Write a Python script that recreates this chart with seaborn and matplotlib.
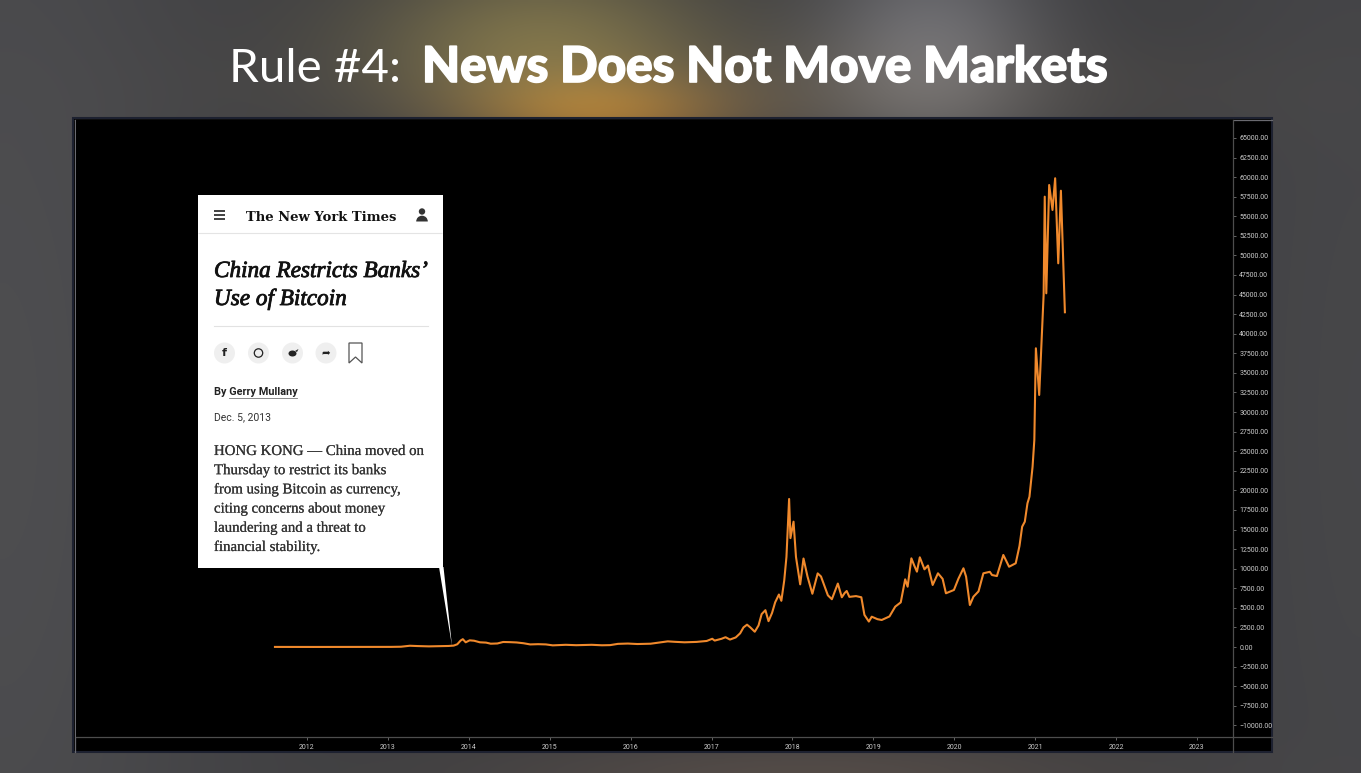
import numpy as np
import pandas as pd
import matplotlib
matplotlib.use("Agg")
import matplotlib.pyplot as plt
from matplotlib.patches import Rectangle, Polygon, Circle, Wedge, Ellipse
import matplotlib.patheffects as pe
import seaborn as sns

# ---------------- data ----------------
dates = [
    "2011-08-10", "2011-11-01", "2012-02-01", "2012-05-01", "2012-08-15", "2012-11-01",
    "2013-01-15", "2013-03-01", "2013-04-10", "2013-05-15", "2013-07-05", "2013-08-20",
    "2013-10-01", "2013-10-25", "2013-11-10", "2013-11-25", "2013-12-05", "2013-12-18",
    "2014-01-05", "2014-01-25", "2014-02-20", "2014-03-20", "2014-04-10", "2014-05-10",
    "2014-06-05", "2014-07-05", "2014-08-05", "2014-09-05", "2014-10-05", "2014-11-10",
    "2014-12-15", "2015-01-15", "2015-02-15", "2015-03-15", "2015-05-01", "2015-07-10",
    "2015-08-25", "2015-10-01", "2015-11-05", "2015-12-20", "2016-02-01", "2016-04-01",
    "2016-06-17", "2016-07-20", "2016-09-01", "2016-10-25", "2016-12-10", "2017-01-04",
    "2017-01-15", "2017-02-15", "2017-03-05", "2017-03-25", "2017-04-20", "2017-05-10",
    "2017-05-25", "2017-06-10", "2017-06-25", "2017-07-15", "2017-08-01", "2017-08-15",
    "2017-09-01", "2017-09-15", "2017-10-01", "2017-10-15", "2017-11-01", "2017-11-12",
    "2017-11-25", "2017-12-05", "2017-12-17", "2017-12-23", "2018-01-06", "2018-01-17",
    "2018-02-05", "2018-02-20", "2018-03-10", "2018-04-01", "2018-04-25", "2018-05-10",
    "2018-06-10", "2018-06-28", "2018-07-25", "2018-08-12", "2018-08-25", "2018-09-03",
    "2018-09-15", "2018-10-15", "2018-11-08", "2018-11-22", "2018-12-12", "2018-12-25",
    "2019-01-20", "2019-02-08", "2019-03-15", "2019-04-10", "2019-05-05", "2019-05-25",
    "2019-06-05", "2019-06-22", "2019-07-05", "2019-07-17", "2019-07-30", "2019-08-20",
    "2019-09-05", "2019-09-26", "2019-10-20", "2019-11-10", "2019-11-25", "2019-12-15",
    "2019-12-31", "2020-01-20", "2020-02-12", "2020-02-24", "2020-03-12", "2020-03-28",
    "2020-04-20", "2020-05-12", "2020-06-10", "2020-06-20", "2020-07-12", "2020-08-10",
    "2020-09-05", "2020-10-05", "2020-10-22", "2020-11-03", "2020-11-15", "2020-11-27",
    "2020-12-06", "2020-12-20", "2020-12-28", "2021-01-04", "2021-01-19", "2021-02-08",
    "2021-02-13", "2021-02-20", "2021-03-05", "2021-03-20", "2021-04-01", "2021-04-15",
    "2021-04-27", "2021-05-15",
]
prices = [
    10, 3, 6, 5, 11, 11,
    15, 35, 160, 120, 80, 110,
    130, 180, 350, 820, 1000, 600,
    850, 800, 600, 560, 420, 450,
    640, 620, 580, 480, 330, 360,
    330, 210, 240, 280, 230, 280,
    220, 240, 400, 440, 380, 420,
    720, 660, 600, 650, 770, 1050,
    820, 1050, 1250, 950, 1220, 1750,
    2500, 2850, 2500, 1950, 2750, 4200,
    4700, 3300, 4350, 5700, 6700, 5900,
    8500, 11500, 18900, 13900, 16000, 11500,
    8000, 11300, 9000, 6800, 9400, 9000,
    6600, 6100, 8100, 6350, 6900, 7150,
    6400, 6500, 6350, 4100, 3250, 3870,
    3550, 3450, 3900, 5150, 5700, 8640,
    7700, 11320, 10400, 9620, 11450, 9920,
    10400, 7920, 9410, 8700, 6860, 7100,
    7280, 8700, 10050, 8980, 5360, 6420,
    7100, 9410, 9600, 9190, 9060, 11750,
    10250, 10690, 12900, 15360, 16000, 18350,
    19190, 23000, 26430, 38140, 32180, 45000,
    57500, 45160, 58990, 55800, 59850, 48990,
    58260, 42740,
]
year_ticks = list(range(2012, 2024))
y_ticks = list(range(-10000, 65001, 2500))

title_light = "Rule #4:"
title_bold = "News Does Not Move Markets"
nyt_logo = "The New York Times"
headline = ["China Restricts Banks\u2019", "Use of Bitcoin"]
byline = "By Gerry Mullany"
dateline = "Dec. 5, 2013"
body = [
    "HONG KONG \u2014 China moved on",
    "Thursday to restrict its banks",
    "from using Bitcoin as currency,",
    "citing concerns about money",
    "laundering and a threat to",
    "financial stability.",
]

# ---------------- figure ----------------
W, H = 1361, 773
fig = plt.figure(figsize=(W / 100, H / 100), dpi=100)
renderer = fig.canvas.get_renderer()

# background (blurred photo look)
bg = fig.add_axes([0, 0, 1, 1], zorder=0)
bg.set_xlim(0, W)
bg.set_ylim(H, 0)
bg.axis("off")
yy, xx = np.mgrid[0:H:3, 0:W:3].astype(float)
base = np.array([0.245, 0.245, 0.255])
img = np.zeros(yy.shape + (3,)) + base


def blob(cx, cy, sx, sy, col, amp):
    g = amp * np.exp(-(((xx - cx) / sx) ** 2 + ((yy - cy) / sy) ** 2) / 2)
    return g[..., None] * (np.array(col) - base)


img = img + blob(0, 420, 160, 600, (0.31, 0.31, 0.32), 0.9)
img = img + blob(1361, 420, 120, 600, (0.29, 0.29, 0.30), 0.7)
img = img + blob(540, 40, 120, 60, (0.55, 0.50, 0.30), 0.75)
img = img + blob(600, 112, 90, 28, (0.62, 0.42, 0.18), 0.7)
img = img + blob(930, 45, 80, 80, (0.47, 0.47, 0.49), 0.8)
img = img + blob(760, 90, 280, 40, (0.40, 0.36, 0.30), 0.4)
img = img + blob(800, 773, 220, 25, (0.40, 0.34, 0.30), 0.5)
bg.imshow(np.clip(img, 0, 1), extent=[0, W, H, 0], aspect="auto",
          interpolation="bilinear", zorder=0)

# black chart panel
bg.add_patch(Rectangle((73, 118), 1272 - 73, 752 - 118, facecolor="black",
                       edgecolor="#1d2130", lw=1.5, zorder=2))
bg.plot([75.5, 75.5], [752, 119.5], color="#6a6a70", lw=0.9, zorder=3)
bg.plot([75.5, 1272], [119.5, 119.5], color="#6a6a70", lw=0.9, zorder=3)

# ---------------- main chart ----------------
def px_ax(x0, y0, x1, y1):
    return [x0 / W, 1 - y1 / H, (x1 - x0) / W, (y1 - y0) / H]


ax = fig.add_axes(px_ax(76, 120, 1233, 737), zorder=1)
ax.set_facecolor("black")
df = pd.DataFrame({"date": pd.to_datetime(dates), "price": prices})
sns.lineplot(data=df, x="date", y="price", ax=ax, color="#f0892c",
             linewidth=1.5, estimator=None)


def yr(d):
    y = int(np.floor(d))
    a = pd.Timestamp(y, 1, 1)
    b = pd.Timestamp(y + 1, 1, 1)
    return a + (b - a) * (d - y)


px_per_year = 80.9
ax.set_xlim(yr(2012 + (76 - 307) / px_per_year), yr(2012 + (1233 - 307) / px_per_year))
px_per_unit = 19.58 / 2500
ax.set_ylim(-(737 - 647) / px_per_unit, (647 - 120) / px_per_unit)
for s in ax.spines.values():
    s.set_visible(False)
ax.set_xlabel("")
ax.set_ylabel("")
ax.set_xticks([pd.Timestamp(f"{y}-01-01") for y in year_ticks])
ax.set_xticklabels([str(y) for y in year_ticks])
ax.yaxis.tick_right()
ax.set_yticks(y_ticks)
ax.set_yticklabels([f"{v:.2f}".replace("-", "\u2212") for v in y_ticks])
ax.tick_params(axis="x", length=2, width=0.6, color="#777777", pad=3,
               labelsize=5, labelcolor="#cccccc")
ax.tick_params(axis="y", length=2.5, width=0.6, color="#777777", pad=2,
               labelsize=5, labelcolor="#cccccc")
for lab in ax.get_xticklabels() + ax.get_yticklabels():
    lab.set_fontfamily("Roboto")
ax.grid(False)

# ---------------- overlay (separators, callout, title) ----------------
ov = fig.add_axes([0, 0, 1, 1], zorder=3)
ov.set_xlim(0, W)
ov.set_ylim(H, 0)
ov.axis("off")
ov.patch.set_alpha(0)

ov.plot([1233, 1233], [120, 752], color="#4d4d4d", lw=0.9)
ov.plot([76, 1272], [737, 737], color="#4d4d4d", lw=0.9)


def fit(t, width):
    bb = t.get_window_extent(renderer)
    t.set_fontsize(t.get_fontsize() * width / bb.width)
    return t


# title
t1 = ov.text(229, 82, title_light, fontsize=34, color="white",
             fontfamily="Lato", fontweight="normal", va="baseline", ha="left")
fit(t1, 172)
t2 = ov.text(422, 82, title_bold, fontsize=34, color="white",
             fontfamily="Lato", fontweight="black", va="baseline", ha="left",
             path_effects=[pe.withStroke(linewidth=1.2, foreground="white")])
fit(t2, 687)

# callout box
ov.add_patch(Rectangle((198, 195), 245, 373, facecolor="white", edgecolor="none", zorder=4))
ov.add_patch(Polygon([(439, 567), (443.5, 567), (452, 646)], closed=True,
                     facecolor="white", edgecolor="none", zorder=4))
# header
for yv in (211, 215, 219):
    ov.plot([214, 225], [yv, yv], color="#333333", lw=1.3, zorder=5, solid_capstyle="butt")
tl = ov.text(321, 221, nyt_logo, fontsize=12, color="#111111", fontfamily="DejaVu Serif",
             fontweight="bold", ha="center", va="baseline", zorder=5)
fit(tl, 150)
ov.add_patch(Circle((422, 211.5), 3.2, facecolor="#333333", edgecolor="none", zorder=5))
ov.add_patch(Wedge((422, 221.5), 5.8, 180, 360, facecolor="#333333", edgecolor="none", zorder=5))
ov.plot([198, 442], [233, 233], color="#e4e4e4", lw=0.8, zorder=5, solid_capstyle="butt")

# headline
thick = [pe.withStroke(linewidth=0.6, foreground="#121212")]
h1 = ov.text(214, 277, headline[0], fontsize=16, color="#121212", fontfamily="Liberation Serif",
             style="italic", ha="left", va="baseline", zorder=5, path_effects=thick)
fit(h1, 214)
ov.text(214, 305, headline[1], fontsize=h1.get_fontsize(), color="#121212",
        fontfamily="Liberation Serif", style="italic", ha="left", va="baseline", zorder=5,
        path_effects=thick)
ov.plot([214, 428], [326, 326], color="#e2e2e2", lw=0.8, zorder=5)

# share icons
for cx in (224.5, 258.5, 292.5, 326):
    ov.add_patch(Circle((cx, 353), 10.5, facecolor="#efefef", edgecolor="none", zorder=5))
ov.text(224.5, 353.5, "f", fontsize=8, fontweight="bold", color="#222222",
        ha="center", va="center", fontfamily="DejaVu Sans", zorder=6)
ov.add_patch(Circle((258.5, 353), 4.2, facecolor="none", edgecolor="#222222", lw=0.9, zorder=6))
ov.add_patch(Ellipse((292.5, 353.5), 8, 6, facecolor="#222222", edgecolor="none", zorder=6))
ov.add_patch(Polygon([(295, 351), (298.5, 349), (297, 352)], facecolor="#222222",
                     edgecolor="none", zorder=6))
ov.text(326, 353, "\u27a6", fontsize=7.5, color="#222222", ha="center", va="center",
        fontfamily="DejaVu Sans", zorder=6)
ov.add_patch(Polygon([(349, 343), (362, 343), (362, 363), (355.5, 357), (349, 363)],
                     closed=True, facecolor="none", edgecolor="#555555", lw=0.9, zorder=6))

# byline and date
tb = ov.text(214, 395, byline, fontsize=7.5, fontweight="bold", color="#222222",
             fontfamily="Roboto", ha="left", va="baseline", zorder=5)
fit(tb, 83)
ov.plot([229, 297], [397.5, 397.5], color="#777777", lw=0.6, zorder=5)
td = ov.text(214, 420, dateline, fontsize=7, color="#333333", fontfamily="Roboto",
             ha="left", va="baseline", zorder=5)
fit(td, 57)

# body text
bodyfx = [pe.withStroke(linewidth=0.12, foreground="#333333")]
b0 = ov.text(214, 455, body[0], fontsize=11, color="#333333", fontfamily="Liberation Serif",
             ha="left", va="baseline", zorder=5, path_effects=bodyfx)
fit(b0, 210)
for i, line in enumerate(body[1:], start=1):
    ov.text(214, 455 + 19.2 * i, line, fontsize=b0.get_fontsize(), color="#333333",
            fontfamily="Liberation Serif", ha="left", va="baseline", zorder=5,
            path_effects=bodyfx)

fig.savefig("out.png", dpi=100)
